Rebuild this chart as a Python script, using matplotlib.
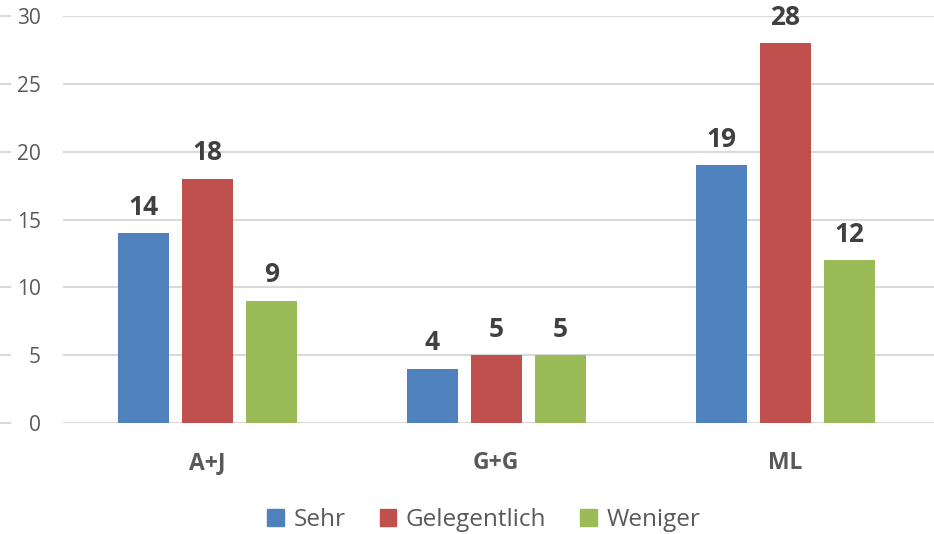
import matplotlib
matplotlib.use("Agg")
import matplotlib.pyplot as plt
import matplotlib.transforms as mtransforms
from matplotlib.patches import Patch
import numpy as np

categories = ["A+J", "G+G", "ML"]
series_names = ["Sehr", "Gelegentlich", "Weniger"]
sehr = [14, 4, 19]
gelegentlich = [18, 5, 28]
weniger = [9, 5, 12]
yticks = [0, 5, 10, 15, 20, 25, 30]
colors = ["#4F81BD", "#C0504D", "#9BBB59"]

plt.rcParams['font.family'] = ['Open Sans', 'DejaVu Sans']

W, H = 934, 534
fig = plt.figure(figsize=(W / 100, H / 100), dpi=100)
ax = fig.add_axes([63 / W, 111 / H, (W - 63) / W, (423 - 16) / H])

x = np.arange(len(categories))
bw = 51 / 289
step = 64 / 289
series = [sehr, gelegentlich, weniger]
for i, (vals, name, c) in enumerate(zip(series, series_names, colors)):
    xs = x + (i - 1) * step
    ax.bar(xs, vals, width=bw, color=c, label=name, zorder=3)
    for xi, v in zip(xs, vals):
        ax.annotate(str(v), (xi, v), xytext=(0, 9), textcoords="offset points",
                    ha="center", va="bottom", fontsize=19, fontweight="bold",
                    color="#404040")

ax.set_ylim(0, 30)
ax.set_xlim(-0.5, 2.5 + 4.5 / 289)
ax.set_yticks(yticks)
ax.set_yticklabels([str(t) for t in yticks])
ax.yaxis.grid(True, color="#d9d9d9", linewidth=1.5, zorder=0)
ax.set_axisbelow(True)
for s in ax.spines.values():
    s.set_visible(False)
ax.tick_params(axis="y", length=0, pad=16, labelsize=15, labelcolor="#595959")
ax.set_xticks(x)
ax.set_xticklabels(categories, fontweight="bold")
ax.tick_params(axis="x", length=0, pad=20, labelsize=16.5, labelcolor="#595959")

# small dashes at the far left
trans = mtransforms.blended_transform_factory(fig.transFigure, ax.transData)
for t in yticks:
    ax.plot([0, 10 / W], [t, t], transform=trans, color="#d9d9d9",
            linewidth=1.5, clip_on=False)

handles = [Patch(color=c, label=n) for c, n in zip(colors, series_names)]
leg = fig.legend(handles=handles, loc="center", bbox_to_anchor=(484 / W, 1 - 520 / H),
                 ncol=3, frameon=False, fontsize=17.5, handlelength=0.68,
                 handleheight=0.68, handletextpad=0.4, columnspacing=1.4)
for t in leg.get_texts():
    t.set_color("#595959")

fig.savefig("out.png", dpi=100)
